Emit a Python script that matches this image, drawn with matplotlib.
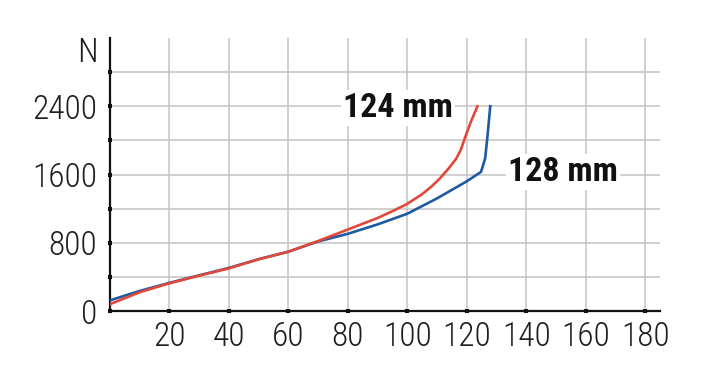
import matplotlib
matplotlib.use("Agg")
from matplotlib import pyplot as plt

# force (N) vs travel (mm) for two lengths
x_124 = [0, 10, 20, 30, 40, 50, 60, 70, 80, 90, 95, 100, 105, 108, 111, 114, 116.5, 118, 119.5, 121.4, 123.6]
y_124 = [80, 220, 325, 414, 500, 606, 695, 820, 955, 1090, 1170, 1256, 1370, 1455, 1555, 1675, 1788, 1890, 2040, 2220, 2400]

x_128 = [0, 10, 20, 30, 40, 50, 60, 70, 80, 90, 100, 110, 115, 120, 124.8, 126.2, 127, 127.9]
y_128 = [125, 235, 330, 418, 505, 608, 695, 815, 905, 1015, 1140, 1320, 1420, 1520, 1631, 1790, 2060, 2400]

x_ticks = [20, 40, 60, 80, 100, 120, 140, 160, 180]
y_ticks = [0, 400, 800, 1200, 1600, 2000, 2400, 2800]
y_labels = ["0", "", "800", "", "1600", "", "2400", ""]

plt.rcParams["font.family"] = ["Roboto Condensed", "Roboto", "DejaVu Sans"]

fig = plt.figure(figsize=(7.12, 3.82), dpi=100)
W, H = 712, 382
ax = fig.add_axes([110 / W, (H - 311) / H, (660 - 110) / W, (311 - 38) / H])

ax.plot(x_128, y_128, color="#1d5aa0", lw=1.9, zorder=3)
ax.plot(x_124, y_124, color="#e2483a", lw=1.9, zorder=4)

ax.set_xlim(0, 185)
ax.set_ylim(0, 3200)
ax.set_xticks(x_ticks)
ax.set_yticks(y_ticks)
ax.set_yticklabels(y_labels)
ax.grid(True, color="#c4c4c4", lw=1.1)
ax.set_axisbelow(True)

for s in ["top", "right"]:
    ax.spines[s].set_visible(False)
for s in ["left", "bottom"]:
    ax.spines[s].set_linewidth(1.6)
    ax.spines[s].set_color("#111111")

ax.tick_params(direction="inout", length=3, width=3, color="#111111",
               labelsize=24, labelcolor="#1e1e1e")
ax.tick_params(axis="x", pad=6)
ax.tick_params(axis="y", pad=8)
for lbl in ax.get_xticklabels() + ax.get_yticklabels():
    lbl.set_fontweight("light")

ax.text(-4, 3020, "N", ha="right", va="center", fontsize=24,
        fontweight="light", color="#1e1e1e")

box = dict(facecolor="white", edgecolor="none", pad=1.5)
ax.text(78.5, 2377, "124 mm", ha="left", va="center", fontsize=24.5,
        fontweight="bold", color="#111111", bbox=box, zorder=5)
ax.text(133.8, 1631, "128 mm", ha="left", va="center", fontsize=24.5,
        fontweight="bold", color="#111111", bbox=box, zorder=5)

fig.savefig("out.png", dpi=100, facecolor="white")
